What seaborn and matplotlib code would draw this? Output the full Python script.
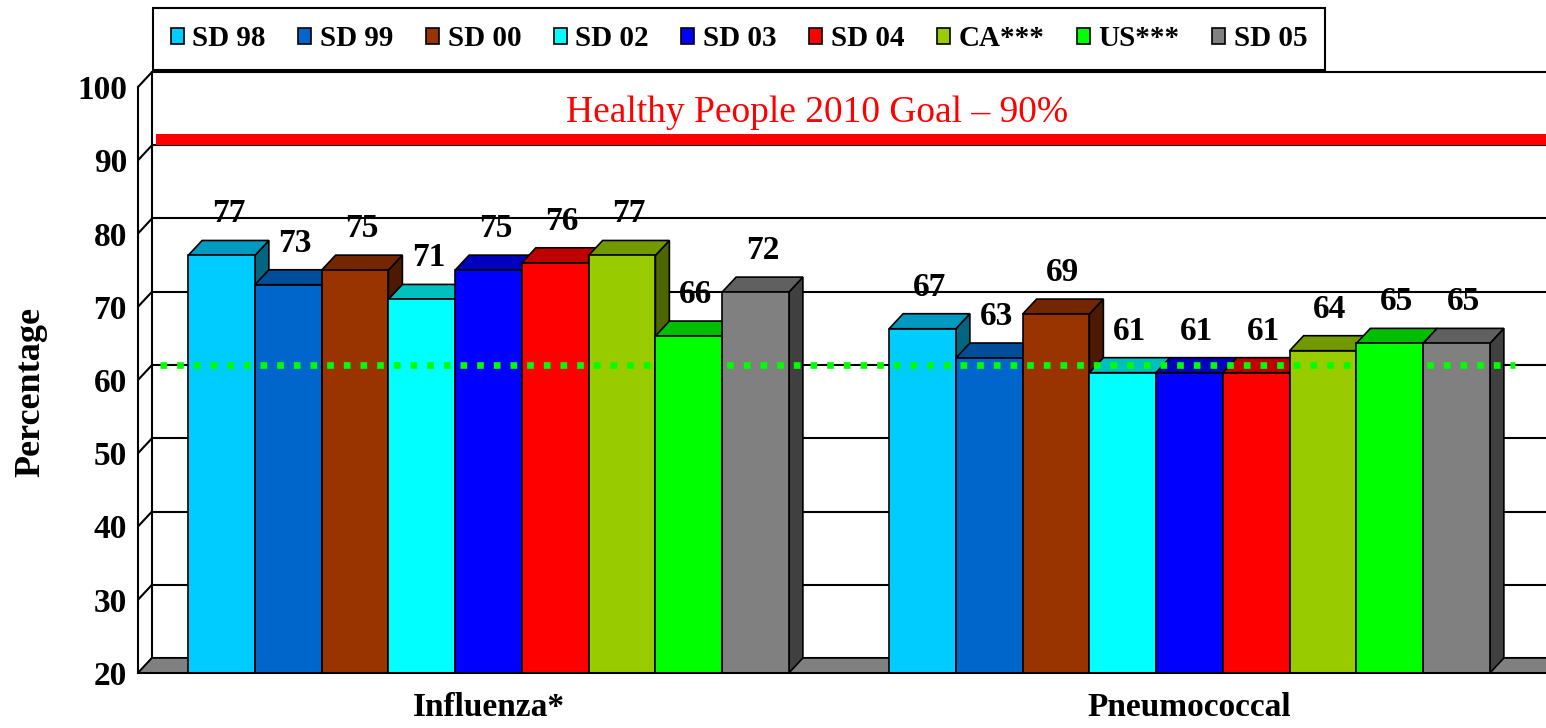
import matplotlib
matplotlib.use("Agg")
import matplotlib.pyplot as plt
import matplotlib.colors as mcolors
from matplotlib.patches import Polygon, Patch, Rectangle
import seaborn as sns
import numpy as np
import pandas as pd

CATEGORIES = ["Influenza*", "Pneumococcal"]
SERIES = ["SD 98", "SD 99", "SD 00", "SD 02", "SD 03", "SD 04", "CA***", "US***", "SD 05"]
INFLUENZA = [77, 73, 75, 71, 75, 76, 77, 66, 72]
PNEUMOCOCCAL = [67, 63, 69, 61, 61, 61, 64, 65, 65]
COLORS = ["#00CCFF", "#0066CC", "#993300", "#00FFFF", "#0000FF",
          "#FF0000", "#99CC00", "#00FF00", "#808080"]
GOAL = 90
GOAL_LABEL = "Healthy People 2010 Goal \u2013 90%"
TARGET = 60

W, H = 1546, 728
DEPTH_X, DEPTH_Y = 14, 15  # px offset of the back wall


def shade(color, f):
    r, g, b = mcolors.to_rgb(color)[:3]
    return (r * f, g * f, b * f)


sns.set_style("white")
plt.rcParams["font.family"] = ["Liberation Serif", "DejaVu Serif"]
for k in ["text.color", "axes.labelcolor", "xtick.color", "ytick.color"]:
    plt.rcParams[k] = "black"

df = pd.DataFrame({
    "vaccine": np.repeat(CATEGORIES, len(SERIES)),
    "series": SERIES * len(CATEGORIES),
    "pct": INFLUENZA + PNEUMOCOCCAL,
})

fig = plt.figure(figsize=(W / 100, H / 100), dpi=100)
ax = fig.add_axes([138 / W, 1 - 673 / H, (1547 - 138) / W, (673 - 87) / H])
ax.set_facecolor("none")

sns.barplot(data=df, x="vaccine", y="pct", hue="series", hue_order=SERIES,
            palette=COLORS, saturation=1, width=0.857, edgecolor="black",
            linewidth=1.2, legend=False, ax=ax)
bars = sorted([b for c in ax.containers for b in c], key=lambda p: p.get_x())

ax.set_xlim(-0.5, 1.51)
ax.set_ylim(20, 100)

# depth offset in data units
p0 = ax.transData.transform((0, 20))
p1 = ax.transData.inverted().transform(p0 + np.array([DEPTH_X, DEPTH_Y]))
dx, dy = p1[0], p1[1] - 20

x_left = -0.5
x_far = 1.6

# back wall grid + left wall
for v in range(20, 101, 10):
    ax.plot([x_left + dx, x_far], [v + dy, v + dy], color="black", lw=1.5,
            zorder=1, clip_on=False)
    ax.plot([x_left, x_left + dx], [v, v + dy], color="black", lw=1.5,
            zorder=1, clip_on=False)
ax.plot([x_left + dx, x_left + dx], [20 + dy, 100 + dy], color="black", lw=1.5,
        zorder=1, clip_on=False)

# floor
ax.add_patch(Polygon([(x_left, 20), (x_far, 20), (x_far + dx, 20 + dy),
                      (x_left + dx, 20 + dy)], closed=True,
                     facecolor="#808080", edgecolor="black", lw=1.2,
                     zorder=1.1, clip_on=False))

# goal band on back wall
ax.add_patch(Rectangle((x_left + dx + 0.006, GOAL + dy), x_far - x_left, 1.5,
                       facecolor="#FF0000", edgecolor="none", zorder=1.5,
                       clip_on=False))
ax.text(0.469, 96.5, GOAL_LABEL, color="#FF0000", fontsize=27,
        ha="center", va="center", zorder=5)

# 3D bars
for i, p in enumerate(bars):
    x, w, h = p.get_x(), p.get_width(), p.get_height()
    c = p.get_facecolor()
    base = 3 + 3 * i
    ax.add_patch(Polygon([(x + w, 20), (x + w, h), (x + w + dx, h + dy),
                          (x + w + dx, 20 + dy)], closed=True,
                         facecolor=shade(c, 0.5), edgecolor="black", lw=1.2,
                         zorder=base))
    ax.add_patch(Polygon([(x, h), (x + w, h), (x + w + dx, h + dy),
                          (x + dx, h + dy)], closed=True,
                         facecolor=shade(c, 0.75), edgecolor="black", lw=1.2,
                         zorder=base + 1))
    p.set_zorder(base + 2)
    ax.annotate(f"{h:.0f}", (x + w / 2, h), xytext=(5, 30),
                textcoords="offset points", ha="center", va="center",
                fontsize=24, fontweight="bold", color="black", zorder=300)

# target dotted line
ax.plot([-0.469, 1.464], [TARGET + dy, TARGET + dy], color="#00FF00", lw=4.8,
        linestyle=(0, (1, 1.5)), dash_capstyle="butt", zorder=250,
        clip_on=False)

# axes styling
sns.despine(ax=ax, top=True, right=True)
for s in ["left", "bottom"]:
    ax.spines[s].set_linewidth(1.5)
    ax.spines[s].set_color("black")
    ax.spines[s].set_zorder(400)

ax.set_yticks(range(20, 101, 10))
ax.tick_params(axis="y", length=6, width=1.5, direction="out", pad=2,
               labelsize=24, color="black", labelcolor="black")
for t in ax.get_yticklabels():
    t.set_fontweight("bold")

ax.set_xticks([-0.5, 0.5, 1.5])
ax.set_xticklabels(["", "", ""])
ax.set_xticks([0, 1], minor=True)
ax.set_xticklabels(CATEGORIES, minor=True, fontsize=24, fontweight="bold")
ax.tick_params(axis="x", which="major", length=6, width=1.5, direction="out",
               color="black")
ax.tick_params(axis="x", which="minor", length=0, pad=14, labelcolor="black")
ax.set_xlabel("")

ax.set_ylabel("Percentage", fontsize=26, fontweight="bold", color="black")
ax.yaxis.set_label_coords(-0.064, 0.48)

handles = [Patch(facecolor=c, edgecolor="black", linewidth=1.2) for c in COLORS]
leg = fig.legend(handles, SERIES, loc="upper left", ncol=9, mode="expand",
                 bbox_to_anchor=(153 / W, 1 - 72 / H, (1325 - 153) / W, 64 / H),
                 borderaxespad=0,
                 frameon=True, fancybox=False, framealpha=1, edgecolor="black",
                 borderpad=0.6, handlelength=0.45, handleheight=0.45,
                 handletextpad=0.3, prop={"size": 21, "weight": "bold"})
leg.get_frame().set_linewidth(1.5)
for t in leg.get_texts():
    t.set_color("black")

fig.savefig("out.png", dpi=100)
